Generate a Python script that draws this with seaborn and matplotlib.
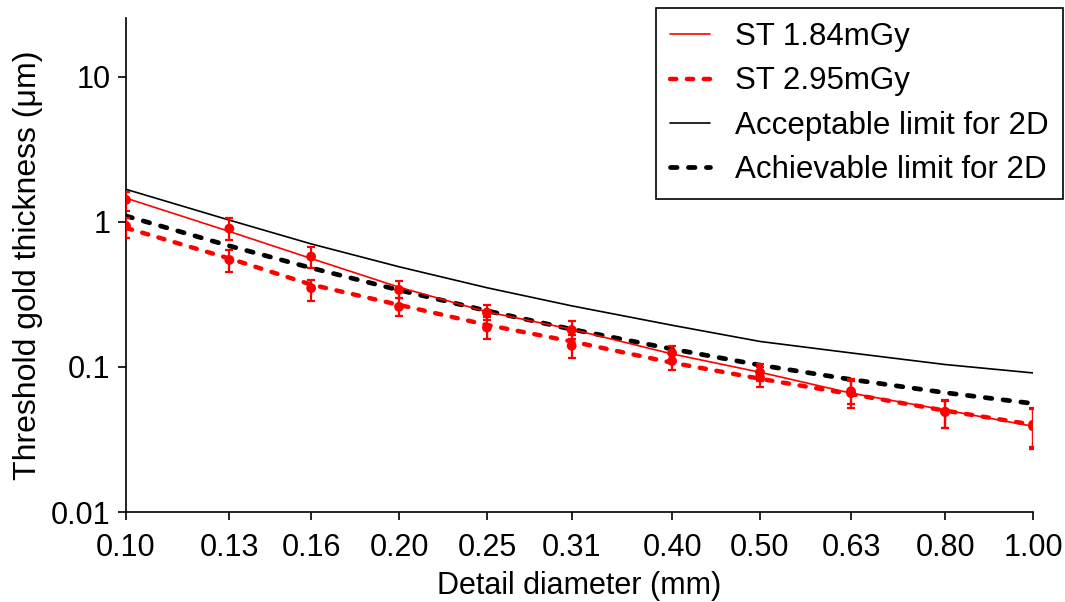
import matplotlib
matplotlib.use("Agg")
import matplotlib.pyplot as plt
import seaborn as sns
import pandas as pd
import numpy as np

# ---- data ----
diam = [0.10, 0.13, 0.16, 0.20, 0.25, 0.31, 0.40, 0.50, 0.63, 0.80, 1.00]
tick_labels = ["0.10", "0.13", "0.16", "0.20", "0.25", "0.31", "0.40", "0.50", "0.63", "0.80", "1.00"]

st184_fit = [1.46, 0.86, 0.56, 0.355, 0.24, 0.182, 0.123, 0.092, 0.066, 0.0505, 0.039]
st295_fit = [0.91, 0.56, 0.37, 0.268, 0.195, 0.15, 0.107, 0.083, 0.065, 0.050, 0.040]
acceptable = [1.68, 1.03, 0.706, 0.491, 0.352, 0.264, 0.194, 0.150, 0.125, 0.104, 0.091]
achievable = [1.10, 0.684, 0.482, 0.339, 0.244, 0.182, 0.133, 0.103, 0.082, 0.0665, 0.056]

st184_pts = [1.42, 0.90, 0.577, 0.34, 0.237, 0.18, 0.125, 0.092, 0.068, 0.049, 0.040]
st184_lo = [1.19, 0.75, 0.48, 0.30, 0.21, 0.157, 0.108, 0.080, 0.056, 0.038, 0.028]
st184_hi = [1.62, 1.07, 0.67, 0.39, 0.268, 0.206, 0.140, 0.105, 0.082, 0.059, 0.0525]

st295_pts = [0.94, 0.547, 0.35, 0.26, 0.187, 0.14, 0.11, 0.085, 0.066, 0.049, 0.039]
st295_lo = [0.78, 0.45, 0.285, 0.223, 0.156, 0.115, 0.095, 0.073, 0.052, 0.038, 0.027]
st295_hi = [1.06, 0.64, 0.40, 0.30, 0.22, 0.165, 0.125, 0.100, 0.080, 0.058, 0.051]

y_ticks = [0.01, 0.1, 1, 10]
y_tick_labels = ["0.01", "0.1", "1", "10"]

# ---- style ----
sns.set_theme(style="ticks")
plt.rcParams["font.family"] = ["Liberation Sans", "DejaVu Sans"]
plt.rcParams.update({"text.color": "black", "axes.labelcolor": "black",
                     "xtick.color": "black", "ytick.color": "black"})

FS = 22

fig = plt.figure(figsize=(10.65, 6.02), dpi=100)
ax = fig.add_axes([126 / 1065, 1 - 512 / 602, (1033 - 126) / 1065, (512 - 18) / 602])

df = pd.DataFrame({"d": diam, "st184": st184_fit, "st295": st295_fit,
                   "acc": acceptable, "ach": achievable})

# black limit curves
sns.lineplot(data=df, x="d", y="acc", ax=ax, color="black", linewidth=1.2,
             label="Acceptable limit for 2D", zorder=2)
sns.lineplot(data=df, x="d", y="ach", ax=ax, color="black", linewidth=3.4,
             label="Achievable limit for 2D", zorder=2)
# red fit curves
sns.lineplot(data=df, x="d", y="st184", ax=ax, color="#ff0000", linewidth=1.2,
             label="ST 1.84mGy", zorder=3)
sns.lineplot(data=df, x="d", y="st295", ax=ax, color="#ff0000", linewidth=3.2,
             label="ST 2.95mGy", zorder=3)

for ln in ax.get_lines():
    if ln.get_label() in ("Achievable limit for 2D", "ST 2.95mGy"):
        ln.set_dashes((1.4, 2.4))
        ln.set_dash_capstyle("round")

# error bars and points
for pts, lo, hi in ((st184_pts, st184_lo, st184_hi), (st295_pts, st295_lo, st295_hi)):
    pts_a = np.array(pts)
    yerr = np.vstack([pts_a - np.array(lo), np.array(hi) - pts_a])
    ax.errorbar(diam, pts, yerr=yerr, fmt="none", ecolor="#ff0000",
                elinewidth=1.6, capsize=3, capthick=1.6, zorder=4)
    sns.scatterplot(x=diam, y=pts, ax=ax, color="#ff0000", s=50,
                    edgecolor="none", zorder=5, legend=False)

ax.set_xscale("log")
ax.set_yscale("log")
ax.set_xlim(0.1, 1.0)
ax.set_ylim(0.01, 25.5)
ax.set_xticks(diam)
ax.set_xticklabels(tick_labels)
ax.xaxis.set_minor_locator(matplotlib.ticker.NullLocator())
ax.set_yticks(y_ticks)
ax.set_yticklabels(y_tick_labels)
ax.yaxis.set_minor_locator(matplotlib.ticker.NullLocator())

ax.tick_params(axis="both", labelsize=FS, length=6, width=1.2, color="black",
               direction="out")
ax.tick_params(axis="x", pad=9)
ax.tick_params(axis="y", pad=5)
ax.set_xlabel("Detail diameter (mm)", fontsize=FS, labelpad=6)
ax.set_ylabel("Threshold gold thickness (μm)", fontsize=23, labelpad=6)

for s in ("top", "right"):
    ax.spines[s].set_visible(False)
for s in ("left", "bottom"):
    ax.spines[s].set_color("black")
    ax.spines[s].set_linewidth(1.2)

# legend ordering
handles, labels = ax.get_legend_handles_labels()
order = ["ST 1.84mGy", "ST 2.95mGy", "Acceptable limit for 2D", "Achievable limit for 2D"]
hmap = dict(zip(labels, handles))
leg = ax.legend([hmap[k] for k in order], order, loc="upper right",
                bbox_to_anchor=(1063 / 1065, 1 - 8 / 602),
                bbox_transform=fig.transFigure, fontsize=22.5, frameon=True,
                fancybox=False, edgecolor="black", framealpha=1,
                handlelength=1.3, handletextpad=0.8, labelspacing=0.46,
                borderpad=0.45, borderaxespad=0)
leg.get_frame().set_linewidth(1.2)

fig.savefig("out.png", dpi=100)
